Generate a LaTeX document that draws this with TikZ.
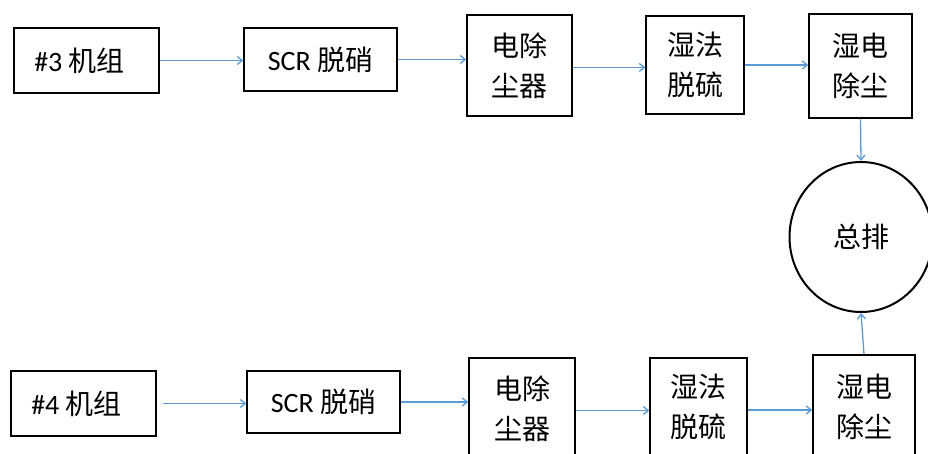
\documentclass[tikz,border=0pt]{standalone}
\usepackage{fontspec}
\setmainfont{Carlito}
\newfontfamily\cjk{Noto Sans CJK SC}
\usetikzlibrary{arrows.meta,shapes.geometric}
\definecolor{lineblue}{RGB}{91,155,213}
\begin{document}
\begin{tikzpicture}[x=1pt,y=-1pt,
  box/.style={draw,line width=1.4pt,inner sep=0pt,align=center,
    font=\fontsize{28}{40}\selectfont\cjk},
  arr/.style={draw=lineblue,line width=1.3pt,-{Straight Barb[length=5pt,width=8pt]}}]
\useasboundingbox (0,0) rectangle (928,454);
\clip (0,0) rectangle (928,454);
\fill[white] (0,0) rectangle (928,454);
% top row
\node[box,minimum width=145pt,minimum height=65pt] (T1) at (86.5,60.5) {{\rmfamily\#3} 机组\hspace*{14pt}};
\node[box,minimum width=153pt,minimum height=63pt] (T2) at (320.5,59.5) {{\rmfamily SCR} 脱硝};
\node[box,minimum width=105pt,minimum height=101pt] (T3) at (519.5,65.5) {电除\\尘器};
\node[box,minimum width=98pt,minimum height=98pt] (T4) at (695,65) {湿法\\脱硫};
\node[box,minimum width=103pt,minimum height=104pt] (T5) at (860.5,66) {湿电\\除尘};
% exhaust
\node[box,shape=ellipse,line width=2pt,minimum width=143pt,minimum height=150pt] (C) at (861,237) {总排};
% bottom row
\node[box,minimum width=145pt,minimum height=65pt] (B1) at (83.5,403.5) {{\rmfamily\#4} 机组\hspace*{14pt}};
\node[box,minimum width=153pt,minimum height=62pt] (B2) at (323.5,402) {{\rmfamily SCR} 脱硝};
\node[box,minimum width=106pt,minimum height=101pt] (B3) at (522,408.5) {电除\\尘器};
\node[box,minimum width=97pt,minimum height=98pt] (B4) at (698.5,407) {湿法\\脱硫};
\node[box,minimum width=102pt,minimum height=104pt] (B5) at (864,407) {湿电\\除尘};
% connectors top
\draw[arr] (T1.east) -- (T1.east -| T2.west);
\draw[arr] (T2.east) -- (T2.east -| T3.west);
\draw[arr] ([yshift=-2pt]T3.east) -- ([yshift=-2pt]T3.east -| T4.west);
\draw[arr] (T4.east) -- (T4.east -| T5.west);
\draw[arr] (T5.south) -- (C.north);
% connectors bottom
\draw[arr,shorten <=6pt] (B1.east) -- (B1.east -| B2.west);
\draw[arr] (B2.east) -- (B2.east -| B3.west);
\draw[arr] ([yshift=-2pt]B3.east) -- ([yshift=-2pt]B3.east -| B4.west);
\draw[arr] ([yshift=-3pt]B4.east) -- ([yshift=-3pt]B4.east -| B5.west);
\draw[arr] (B5.north) -- (C.south);
\end{tikzpicture}
\end{document}
